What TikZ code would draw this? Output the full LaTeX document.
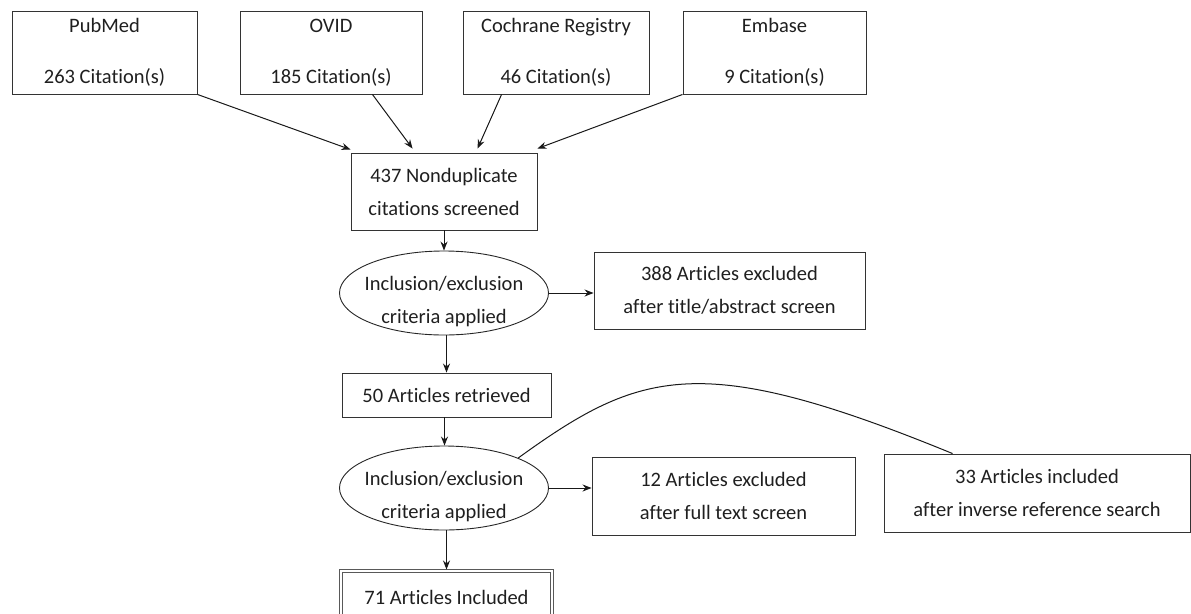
\documentclass[tikz,border=0pt]{standalone}
\usepackage{fontspec}
\setmainfont{Carlito}[Ligatures={NoCommon}]
\usetikzlibrary{arrows.meta,shapes.geometric,calc}
\begin{document}
\begin{tikzpicture}[x=1pt,y=-1pt,
  txt/.style={font=\fontsize{20.5}{33}\selectfont,text=black!88,align=center,inner sep=0pt},
  box/.style={draw=black!80,line width=0.9pt,rectangle,txt},
  oval/.style={draw=black!85,line width=0.9pt,ellipse,inner sep=0pt},
  arr/.style={draw=black!90,line width=1pt,-{Stealth[length=9pt,width=7pt]}},
  plain/.style={draw=black!90,line width=1pt}]
\useasboundingbox (0,0) rectangle (1191,613);
\clip (0,0) rectangle (1191,613);
% top sources
\node[box,minimum width=185pt,minimum height=83pt] (pub) at (104.5,52.5) {PubMed\\[18pt]263 Citation(s)};
\node[box,minimum width=182pt,minimum height=83pt] (ovid) at (331,52.5) {OVID\\[18pt]185 Citation(s)};
\node[box,minimum width=186pt,minimum height=83pt] (coch) at (556,52.5) {Cochrane Registry\\[18pt]46 Citation(s)};
\node[box,minimum width=183pt,minimum height=83pt] (emb) at (774.5,52.5) {Embase\\[18pt]9 Citation(s)};
% main flow
\node[box,minimum width=186pt,minimum height=77pt] (n437) at (444,191.5) {437 Nonduplicate\\citations screened};
\node[oval,minimum width=209pt,minimum height=84pt] (e1) at (444,293) {};
\node[txt] (e1t) at (444,302) {Inclusion/exclusion\\criteria applied};
\node[box,minimum width=271pt,minimum height=77pt] (r388) at (729.5,290.5) {388 Articles excluded\\after title/abstract screen};
\node[box,minimum width=209pt,minimum height=44pt] (n50) at (446.5,395) {50 Articles retrieved};
\node[oval,minimum width=209pt,minimum height=84pt] (e2) at (444,488) {};
\node[txt] (e2t) at (444,497) {Inclusion/exclusion\\criteria applied};
\node[box,minimum width=263pt,minimum height=78pt] (r12) at (723.5,496) {12 Articles excluded\\after full text screen};
\node[box,minimum width=306pt,minimum height=78pt] (r33) at (1037,493) {33 Articles included\\after inverse reference search};
\node[box,draw=black!65,line width=1pt,double,double distance=1.6pt,minimum width=211pt,minimum height=54pt] (n71) at (446.5,598) {};
\node[txt] (n71t) at (446.5,597) {71 Articles Included};
% connectors
\draw[arr] (pub.south east) -- ([yshift=3pt]n437.north west);
\draw[arr] ([xshift=-50pt]ovid.south east) -- ([xshift=62pt,yshift=4pt]n437.north west);
\draw[arr] ([xshift=39pt]coch.south west) -- ([xshift=127pt,yshift=4pt]n437.north west);
\draw[arr] (emb.south west) -- ([yshift=4pt]n437.north east);
\draw[arr] (n437.south) -- (e1.north);
\draw[arr] (e1.east) -- (e1.east -| r388.west);
\draw[arr] (e1.south -| n50.north) -- (n50.north);
\draw[arr] ([xshift=-2pt]n50.south) -- ([xshift=-2pt]e2.north -| n50.south);
\draw[arr] (e2.east) -- (e2.east -| r12.west);
\draw[arr] (e2.south -| n71.north) -- ([yshift=1pt]n71.north);
\draw[plain] (e2.north east) .. controls (640,370) and (700,350) .. ([xshift=69pt]r33.north west);
\end{tikzpicture}
\end{document}
